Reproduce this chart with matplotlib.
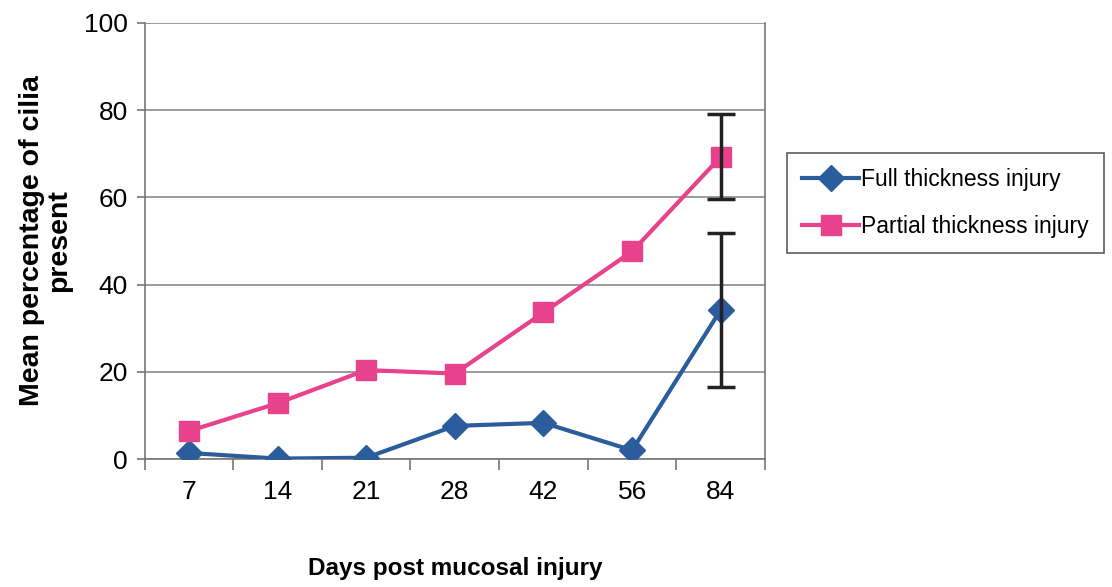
import numpy as np
import matplotlib
matplotlib.use("Agg")
import matplotlib.pyplot as plt

# data
days = ["7", "14", "21", "28", "42", "56", "84"]
full = [1.4, 0.1, 0.3, 7.6, 8.3, 2.0, 34.2]
partial = [6.4, 12.8, 20.4, 19.6, 33.6, 47.6, 69.3]
full_err = [0, 0, 0, 0, 0, 0, 17.6]
partial_err = [0, 0, 0, 0, 0, 0, 9.7]

plt.rcParams['font.family'] = ['Liberation Sans', 'DejaVu Sans']

fig = plt.figure(figsize=(11.12, 5.87), dpi=100)
ax = fig.add_axes([0.130, 0.218, 0.558, 0.743])

x = np.arange(len(days))
blue = '#2b5c9c'
pink = '#e8428c'

ax.plot(x, full, color=blue, lw=3, marker='D', ms=13, label='Full thickness injury', zorder=3)
ax.plot(x, partial, color=pink, lw=3, marker='s', ms=14, label='Partial thickness injury', zorder=3)

# error bars only on the last point
ax.errorbar(x[-1:], full[-1:], yerr=full_err[-1:], fmt='none', ecolor='#222222',
            elinewidth=2.5, capsize=10, capthick=2.5, zorder=4)
ax.errorbar(x[-1:], partial[-1:], yerr=partial_err[-1:], fmt='none', ecolor='#222222',
            elinewidth=2.5, capsize=10, capthick=2.5, zorder=4)

ax.set_xlim(-0.5, len(days) - 0.5)
ax.set_ylim(0, 100)
ax.set_yticks(range(0, 101, 20))
ax.set_xticks(x)
ax.set_xticklabels(days)
ax.set_xticks(np.arange(-0.5, len(days), 1), minor=True)
ax.tick_params(axis='x', which='major', length=0, pad=15, labelsize=19)
ax.tick_params(axis='x', which='minor', length=8, width=1.2, color='#777777')
ax.tick_params(axis='y', length=6, width=1.2, color='#777777', labelsize=19, pad=6)

ax.yaxis.grid(True, color='#8a8a8a', lw=1.2)
ax.set_axisbelow(True)
for s in ['left', 'bottom', 'right']:
    ax.spines[s].set_color('#777777')
    ax.spines[s].set_linewidth(1.2)
ax.spines['top'].set_visible(False)

ax.set_xlabel('Days post mucosal injury', fontsize=17.5, fontweight='bold', labelpad=38)
fig.text(46 / 1112, 0.59, 'Mean percentage of cilia\npresent', fontsize=20.5,
         fontweight='bold', rotation=90, ha='center', va='center', linespacing=1.05)

leg = ax.legend(loc='center left', bbox_to_anchor=(1.035, 0.587), fontsize=16.5,
                frameon=True, fancybox=False, edgecolor='#333333', borderaxespad=0,
                handlelength=2.5, borderpad=0.66, labelspacing=1.05, handletextpad=0.1)
leg.get_frame().set_linewidth(1.2)

fig.savefig('out.png', dpi=100)
